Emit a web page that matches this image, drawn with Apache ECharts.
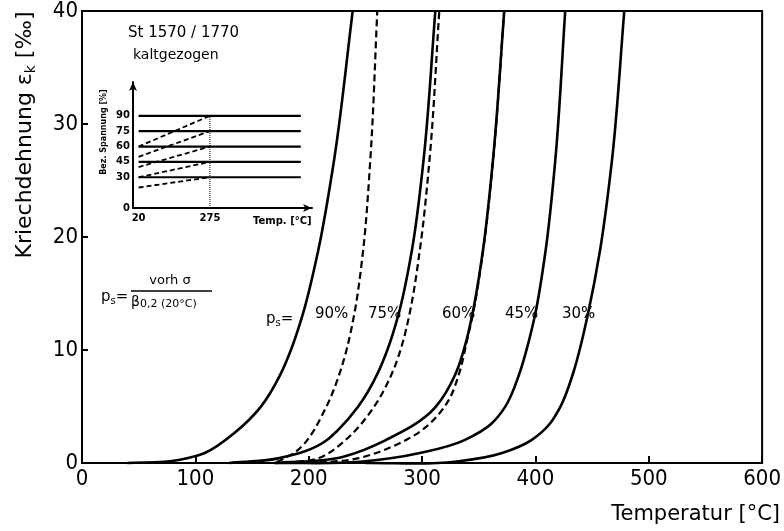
<!DOCTYPE html>
<html><head><meta charset="utf-8">
<script src="https://cdn.jsdelivr.net/npm/echarts@6/dist/echarts.min.js"></script>
<style>html,body{margin:0;padding:0;background:#fff}#c{width:784px;height:531px}</style>
</head><body><div id="c"></div>
<script>
// ---- data (main chart: Temperatur [°C] vs Kriechdehnung [‰]) ----
const xTicks = [0, 100, 200, 300, 400, 500, 600];
const yTicks = [0, 10, 20, 30, 40];
const curve90 = [[40,0],[85,0.26],[108.3,0.88],[134.4,2.65],[157.7,4.97],[175.6,7.95],[184.2,9.98],[194.5,13.07],[208.4,18.81],[222.3,26.75],[238.8,40]];
const curve90dashed = [[172,0.1],[186.6,0.86],[215.5,4.97],[224.2,7.04],[233.3,9.98],[240,13.07],[248,18.81],[254.3,26.75],[260.5,40]];
const curve75 = [[130,0],[172.9,0.41],[216.1,2.03],[225.8,2.91],[243.5,4.97],[260.9,7.95],[269.3,9.98],[279,13.07],[291,18.81],[301.25,26.75],[311.7,40]];
const curve75dashed = [[180,0],[211.9,0.56],[232.5,2.03],[257.6,4.97],[273.4,7.92],[283.5,10.86],[288.7,13.07],[298,18.81],[306.5,26.75],[315.2,40]];
const curve60 = [[170,0],[230.6,0.56],[268,2.03],[312,4.97],[329.7,7.92],[339.2,10.86],[344.2,13.07],[353.7,18.81],[362.5,26.75],[372.5,40]];
const curve60dashed = [[200,0],[243.2,0.41],[273.3,1.44],[303.6,3.2],[323.5,5.56],[332.7,7.92],[339.7,10.86],[344.6,13.07],[353.9,18.81],[362.6,26.75],[372.5,40]];
const curve45 = [[170,0],[245.6,0.11],[297,0.86],[337.4,2.03],[361.4,3.5],[373.3,4.97],[385.9,7.92],[394.4,10.86],[399.6,13.07],[409,18.81],[417.5,26.75],[426.3,40]];
const curve30 = [[250,0],[328.8,0.11],[369.9,0.86],[396.5,2.03],[412.9,3.5],[422,4.97],[433.2,7.92],[441.1,10.86],[446.1,13.07],[457,18.81],[467.5,26.75],[478.4,40]];
const curveLabels = ['90%', '75%', '60%', '45%', '30%'];

// ---- data (inset: Bez. Spannung [%] vs Temp [°C]) ----
const insetLevels = [90, 75, 60, 45, 30];
const insetStart = [60, 50, 40, 30, 20];
const insetX = [20, 275, 600];
const insetYTicks = [0, 30, 45, 60, 75, 90];
const insetXTicks = [20, 275];

// ---- fonts ----
function avail(f){
  const ctx = document.createElement('canvas').getContext('2d');
  const t = '0123456789 Kriechdehnung';
  ctx.font = '40px monospace'; const a = ctx.measureText(t).width;
  ctx.font = "40px '" + f + "', monospace"; const b = ctx.measureText(t).width;
  ctx.font = '40px serif'; const c = ctx.measureText(t).width;
  ctx.font = "40px '" + f + "', serif"; const d = ctx.measureText(t).width;
  return a !== b || c !== d;
}
let tickFam = 'Liberation Sans', tickSize = 22;
if (avail('Liberation Sans Narrow')) { tickFam = 'Liberation Sans Narrow'; tickSize = 26; }
else if (avail('DejaVu Sans Condensed')) { tickFam = 'DejaVu Sans Condensed'; tickSize = 22; }
const F = 'DejaVu Sans';

const chart = echarts.init(document.getElementById('c'), null, {renderer: 'canvas'});

// smooth curve through the data points (cubic Beziers with parabolic/Bessel tangents), positions via api.coord
function smoothCurve(points, lineStyle) {
  return {
    type:'custom', coordinateSystem:'cartesian2d', xAxisIndex:0, yAxisIndex:0, z:3, silent:true,
    data: points,
    renderItem: function(params, api) {
      if (params.dataIndex !== 0) return null;
      const P = points.map(p => api.coord(p));
      const n = P.length;
      const d = [], u = [];
      for (let i = 0; i < n - 1; i++) {
        const dd = Math.hypot(P[i+1][0]-P[i][0], P[i+1][1]-P[i][1]) || 1e-6;
        d.push(dd); u.push([(P[i+1][0]-P[i][0])/dd, (P[i+1][1]-P[i][1])/dd]);
      }
      const T = P.map((p, i) => {
        if (i === 0) return u[0];
        if (i === n-1) return u[n-2];
        const a = d[i-1], b = d[i];
        const tx = (u[i-1][0]*b + u[i][0]*a)/(a+b), ty = (u[i-1][1]*b + u[i][1]*a)/(a+b);
        const m = Math.hypot(tx, ty) || 1;
        return [tx/m, ty/m];
      });
      let path = 'M' + P[0][0] + ' ' + P[0][1];
      for (let i = 0; i < n - 1; i++) {
        const k = d[i] / 3;
        const c1 = [P[i][0] + T[i][0]*k, P[i][1] + T[i][1]*k];
        const c2 = [P[i+1][0] - T[i+1][0]*k, P[i+1][1] - T[i+1][1]*k];
        path += ' C' + c1[0] + ' ' + c1[1] + ' ' + c2[0] + ' ' + c2[1] + ' ' + P[i+1][0] + ' ' + P[i+1][1];
      }
      return {type:'path', shape:{pathData:path}, style:Object.assign({fill:null, stroke:'#000', lineCap:'butt', lineJoin:'round'}, lineStyle)};
    }
  };
}
const solidStyle = {lineWidth:2.6};
const dashStyle = {lineWidth:2.2, lineDash:[7,4]};

const series = [
  smoothCurve(curve90, solidStyle), smoothCurve(curve90dashed, dashStyle),
  smoothCurve(curve75, solidStyle), smoothCurve(curve75dashed, dashStyle),
  smoothCurve(curve60, solidStyle), smoothCurve(curve60dashed, dashStyle),
  smoothCurve(curve45, solidStyle), smoothCurve(curve30, solidStyle)
];
insetLevels.forEach((v, i) => {
  series.push({type:'line', xAxisIndex:1, yAxisIndex:1, showSymbol:false, silent:true,
    data:[[insetX[0], v], [insetX[2], v]], lineStyle:{color:'#000', width:2.2}});
  series.push({type:'line', xAxisIndex:1, yAxisIndex:1, showSymbol:false, silent:true,
    data:[[insetX[0], insetStart[i]], [insetX[1], v]], lineStyle:{color:'#000', width:1.8, type:[5,3]}});
});
series.push({type:'line', xAxisIndex:1, yAxisIndex:1, showSymbol:false, silent:true,
  data:[[insetX[1], 0], [insetX[1], insetLevels[0]]], lineStyle:{color:'#000', width:1, type:'dotted'}});

const lblX = [315, 368, 442, 505, 562];
const psRich = {p:{fontFamily:F, fontSize:15, fill:'#000', lineHeight:18}, s:{fontFamily:F, fontSize:10, fill:'#000', verticalAlign:'bottom', lineHeight:12}};
const graphic = [
  {type:'text', x:25, y:135, rotation:Math.PI/2, style:{
    text:'{a|Kriechdehnung ε}{s|k}{a| [‰]}', align:'center', verticalAlign:'middle',
    rich:{a:{fontFamily:F, fontSize:22, fill:'#000', lineHeight:26}, s:{fontFamily:F, fontSize:14, fill:'#000', verticalAlign:'bottom', lineHeight:16}}}},
  {type:'text', x:780, y:515, style:{text:'Temperatur [°C]', fontFamily:F, fontSize:21, fill:'#000', align:'right', verticalAlign:'middle'}},
  {type:'text', x:128, y:33, style:{text:'St 1570 / 1770', fontFamily:F, fontSize:15, fill:'#000', verticalAlign:'middle'}},
  {type:'text', x:133, y:55, style:{text:'kaltgezogen', fontFamily:F, fontSize:14, fill:'#000', verticalAlign:'middle'}},
  {type:'text', x:104, y:132, rotation:Math.PI/2, style:{text:'Bez. Spannung [%]', fontFamily:F, fontWeight:'bold', fontSize:8, fill:'#000', align:'center', verticalAlign:'middle'}},
  {type:'text', x:253, y:221, style:{text:'Temp. [°C]', fontFamily:F, fontWeight:'bold', fontSize:10, fill:'#000', verticalAlign:'middle'}},
  // formula
  {type:'text', x:101, y:297, style:{text:'{p|p}{s|s}{p|=}', verticalAlign:'middle', rich:psRich}},
  {type:'text', x:170, y:281, style:{text:'vorh σ', fontFamily:F, fontSize:13, fill:'#000', align:'center', verticalAlign:'middle'}},
  {type:'line', shape:{x1:131, y1:291, x2:212, y2:291}, style:{stroke:'#000', lineWidth:1.5}},
  {type:'text', x:131, y:302, style:{text:'{b|β}{s|0,2 (20°C)}', verticalAlign:'middle',
    rich:{b:{fontFamily:F, fontSize:14, fill:'#000', lineHeight:16}, s:{fontFamily:F, fontSize:11, fill:'#000', verticalAlign:'bottom', lineHeight:12}}}},
  // p_s = and labels
  {type:'text', x:266, y:319, style:{text:'{p|p}{s|s}{p|=}', verticalAlign:'middle', rich:psRich}}
];
curveLabels.forEach((t, i) => graphic.push({type:'text', x:lblX[i], y:314,
  style:{text:t, fontFamily:F, fontSize:15, fill:'#000', verticalAlign:'middle'}}));

const option = {
  animation:false,
  backgroundColor:'#fff',
  grid:[
    {left:82, right:11, top:10, bottom:68, show:true, borderColor:'#000', borderWidth:2},
    {left:133, top:82, width:179, height:126, show:false}
  ],
  xAxis:[
    {type:'value', gridIndex:0, min:xTicks[0], max:xTicks[xTicks.length-1], interval:100,
      axisLine:{lineStyle:{color:'#000', width:2}},
      axisTick:{inside:true, length:7, lineStyle:{color:'#000', width:2}},
      axisLabel:{color:'#000', fontFamily:tickFam, fontSize:tickSize, margin:5},
      splitLine:{show:false}},
    {type:'value', gridIndex:1, min:0, max:640,
      axisLine:{symbol:['none','arrow'], symbolSize:[6,9], lineStyle:{color:'#000', width:2}},
      axisTick:{show:false},
      axisLabel:{customValues:insetXTicks, color:'#000', fontFamily:F, fontWeight:'bold', fontSize:10, margin:5},
      splitLine:{show:false}}
  ],
  yAxis:[
    {type:'value', gridIndex:0, min:yTicks[0], max:yTicks[yTicks.length-1], interval:10,
      axisLine:{lineStyle:{color:'#000', width:2}},
      axisTick:{inside:true, length:6, lineStyle:{color:'#000', width:2}},
      axisLabel:{color:'#000', fontFamily:tickFam, fontSize:tickSize, margin:4},
      splitLine:{show:false}},
    {type:'value', gridIndex:1, min:0, max:123,
      axisLine:{symbol:['none','arrow'], symbolSize:[6,9], lineStyle:{color:'#000', width:2}},
      axisTick:{show:false},
      axisLabel:{customValues:insetYTicks, color:'#000', fontFamily:F, fontWeight:'bold', fontSize:10, margin:3},
      splitLine:{show:false}}
  ],
  series:series,
  graphic:graphic
};
chart.setOption(option);
</script></body></html>
